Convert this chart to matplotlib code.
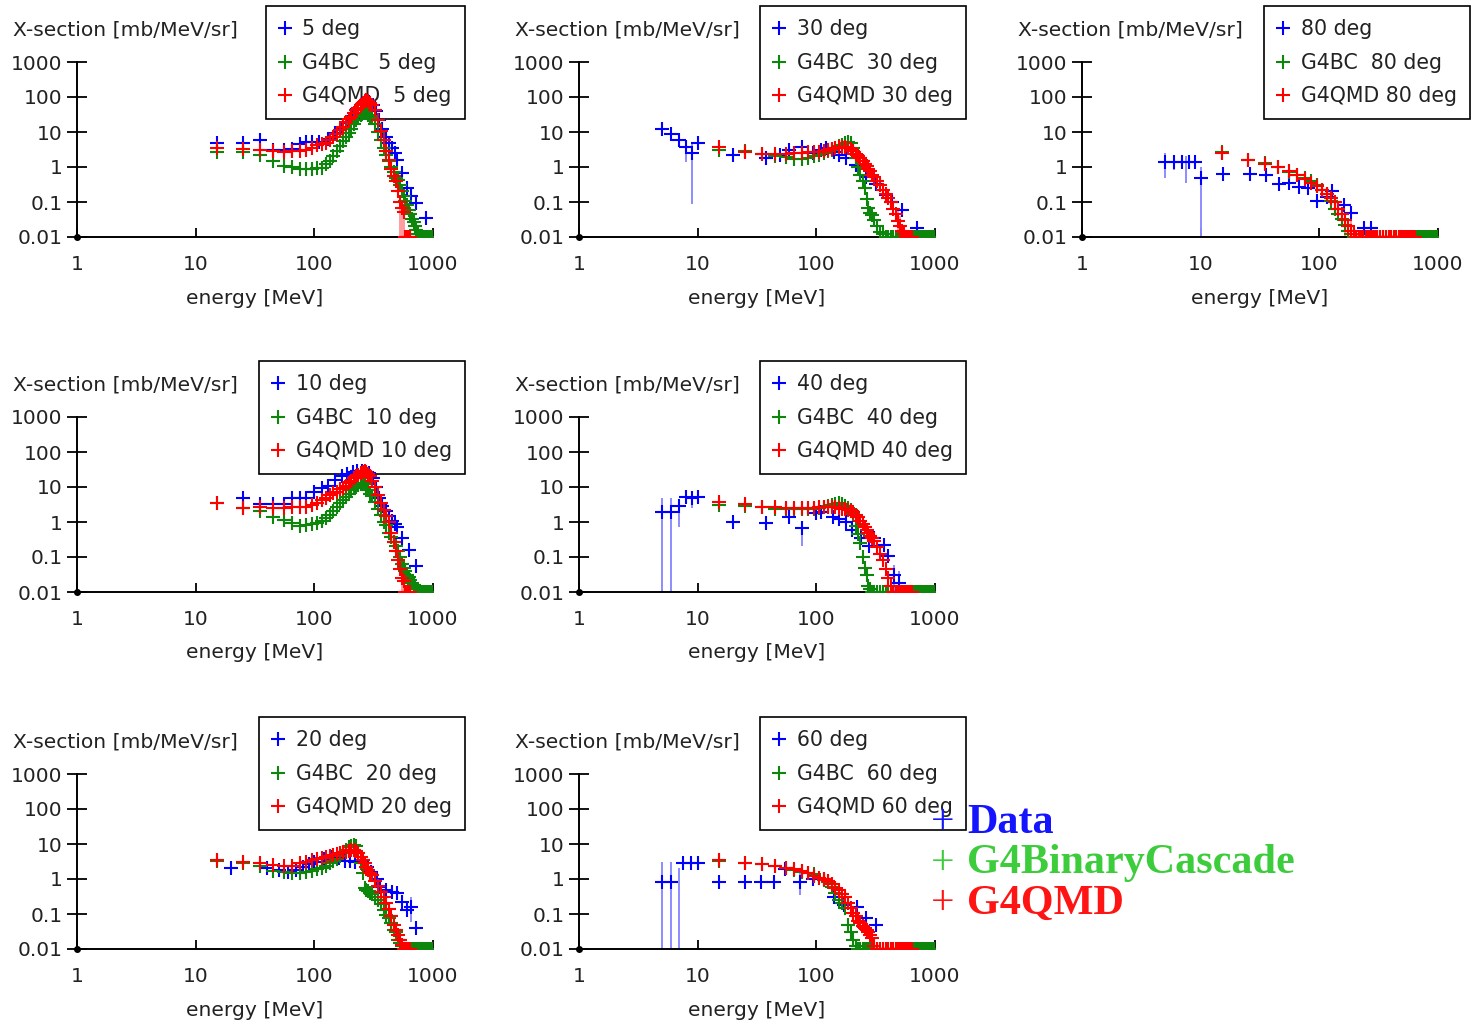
import numpy as np
import matplotlib
matplotlib.use('Agg')
import matplotlib.pyplot as plt
from matplotlib.lines import Line2D
from matplotlib.ticker import NullLocator

# model energy bins [MeV]; G4QMD lists stop at the 645 MeV bin
E_MODEL = [15, 25, 35, 45, 55, 65, 75, 85, 95, 105,
           115, 125, 135, 145, 155, 165, 175, 185, 195, 205,
           215, 225, 235, 245, 255, 265, 275, 285, 295,
           305, 325, 345, 365, 385, 405, 425, 445, 465, 485,
           505, 525, 545, 565, 585, 605, 625, 645,
           665, 685, 705, 725, 745, 765, 785, 805, 825, 845,
           865, 885, 905, 925, 945, 965, 985]

# ---- 5 deg
data5_e = [15, 25, 35, 45, 55, 65, 75, 85, 95, 110, 130, 150, 170, 190, 210, 230, 250,
           270, 290, 310, 330, 350, 375, 400, 425, 450, 475, 500, 550, 600, 650, 725, 875]
data5_v = [4.8, 4.8, 5.9, 3.0, 3.0, 3.3, 4.5, 5.3, 5.3, 5.3, 6.5, 9.2, 13, 18, 28, 45, 65,
           82, 72, 58, 40, 22, 12, 7, 4.75, 3.5, 2.5, 1.6, 0.66, 0.25, 0.15, 0.092, 0.034]
bc5 = [2.7, 2.6, 2.2, 1.5, 1.1, 1.0, 0.9, 0.86, 0.9, 0.92,
       0.95, 1.2, 1.5, 2.0, 2.8, 3.9, 5.5, 7.2, 9.5, 12,
       17, 22, 27, 31, 35, 36, 34, 31, 28,
       25, 17, 10, 6, 3.4, 2.2, 1.5, 1.0, 0.7, 0.5,
       0.42, 0.3, 0.2, 0.15, 0.11, 0.08, 0.058, 0.045,
       0.033, 0.027, 0.02, 0.016, 0.012, 0, 0, 0, 0, 0,
       0, 0, 0, 0, 0, 0, 0]
qmd5 = [3.4, 3.3, 3.0, 2.8, 2.7, 2.8, 2.9, 3.0, 3.6, 4.2,
        4.5, 4.8, 6.0, 7.3, 9.0, 11.4, 14, 19.7, 23, 27,
        34, 42, 50, 58, 66, 76, 82, 75, 68,
        60, 42, 22, 11, 6, 2.8, 1.6, 0.9, 0.55, 0.4,
        0.2, 0.1, 0.066, 0.053, 0, 0, 0, 0]
bars5 = [(525, 0.01, 0.15, 'r'), (545, 0.01, 0.1, 'r'), (565, 0.01, 0.08, 'r')]

# ---- 10 deg
data10_e = [25, 35, 45, 55, 65, 75, 85, 100, 115, 130, 150, 170, 190, 210, 230, 250, 270,
            290, 310, 330, 350, 375, 400, 425, 450, 475, 500, 550, 625, 720]
data10_v = [5.0, 3.3, 3.2, 3.3, 4.7, 5.0, 4.7, 7.3, 9.2, 11, 15.8, 20, 24, 27, 28, 28, 27,
            25, 18, 10, 5, 2.8, 2.0, 1.5, 1.1, 0.9, 0.7, 0.35, 0.16, 0.055]
bc10 = [3.4, 2.5, 2.0, 1.4, 1.15, 0.95, 0.75, 0.8, 0.9, 0.95,
        1.1, 1.3, 1.6, 2.1, 2.7, 3.5, 4.3, 5.3, 6.5, 8.0,
        9.2, 10, 11.4, 12.5, 12.9, 12, 10, 8, 6.5,
        5.5, 3.8, 2.4, 1.6, 1.0, 0.8, 0.5, 0.38, 0.27, 0.2,
        0.15, 0.1, 0.065, 0.047, 0.04, 0.031, 0.026, 0.022,
        0.018, 0.016, 0.014, 0.012, 0, 0, 0, 0, 0, 0,
        0, 0, 0, 0, 0, 0, 0]
qmd10 = [3.4, 2.5, 2.7, 2.5, 2.5, 2.6, 2.6, 2.7, 3.0, 3.4,
         4.2, 5.0, 5.8, 6.6, 7.3, 8.5, 9.5, 11, 13, 15,
         17.7, 20, 22, 25, 27, 28, 27, 23, 20,
         15, 10, 6, 3.5, 2.2, 1.5, 1.0, 0.5, 0.27, 0.15,
         0.08, 0.045, 0.025, 0.02, 0, 0, 0, 0]
bars10 = [(545, 0.01, 0.05, 'r'), (565, 0.01, 0.04, 'r')]

# ---- 20 deg
data20_e = [20, 40, 50, 60, 70, 80, 90, 100, 120, 140, 160, 180, 200, 220, 250, 280, 300,
            340, 360, 400, 450, 500, 550, 600, 650, 720]
data20_v = [2.0, 2.0, 1.8, 1.6, 1.8, 2.2, 2.6, 3.1, 3.8, 4.3, 4.0, 3.3, 3.2, 3.0, 3.0, 2.2, 1.6,
            1.0, 0.6, 0.5, 0.43, 0.4, 0.22, 0.13, 0.16, 0.04]
bc20 = [3.3, 2.9, 2.3, 1.7, 1.55, 1.45, 1.45, 1.55, 1.7, 1.9,
        2.1, 2.4, 2.9, 3.2, 3.7, 4.6, 5.6, 6.8, 8.3, 9.0,
        9.5, 8.5, 5.5, 2.8, 1.5, 0.55, 0.48, 0.44, 0.4,
        0.37, 0.3, 0.25, 0.19, 0.13, 0.096, 0.075, 0.055, 0.035, 0.03,
        0.018, 0.015, 0.012, 0, 0, 0, 0, 0,
        0, 0, 0, 0, 0, 0, 0, 0, 0, 0,
        0, 0, 0, 0, 0, 0, 0]
qmd20 = [3.5, 3.1, 2.8, 2.5, 2.3, 2.4, 2.8, 3.1, 3.4, 3.7,
         4.0, 4.3, 4.6, 4.9, 5.2, 5.5, 5.8, 6.0, 6.3, 6.6,
         6.8, 6.5, 5.5, 4.3, 3.5, 2.8, 2.2, 1.8, 1.5,
         1.3, 0.9, 0.62, 0.43, 0.31, 0.2, 0.14, 0.085, 0.05, 0.035,
         0.025, 0.018, 0.013, 0, 0, 0, 0, 0]
bars20 = [(650, 0.06, 0.3, 'b')]

# ---- 30 deg
data30_e = [5, 6, 7, 8, 9, 10, 20, 38, 49, 59, 76, 93, 109, 121, 140, 156, 178, 215,
            263, 318, 385, 437, 530, 710]
data30_v = [12.2, 8.6, 5.9, 3.8, 2.5, 4.75, 2.2, 1.8, 2.2, 3.05, 3.8, 2.5, 3.05, 3.4, 2.6,
            2.2, 1.8, 1.14, 0.53, 0.33, 0.16, 0.1, 0.059, 0.018]
bc30 = [3.0, 2.8, 2.4, 2.1, 1.9, 1.7, 1.7, 1.8, 2.0, 2.2,
        2.5, 2.8, 3.1, 3.5, 3.9, 4.3, 4.7, 5.1, 4.8, 3.5,
        1.8, 1.0, 0.6, 0.4, 0.25, 0.12, 0.066, 0.05, 0.042,
        0.03, 0.02, 0.014, 0.012, 0, 0, 0, 0, 0, 0,
        0, 0, 0, 0, 0, 0, 0, 0,
        0, 0, 0, 0, 0, 0, 0, 0, 0, 0,
        0, 0, 0, 0, 0, 0, 0]
qmd30 = [3.8, 2.7, 2.4, 2.4, 2.4, 2.5, 2.5, 2.6, 2.6, 2.7,
         2.8, 3.0, 3.3, 3.6, 3.8, 3.8, 3.7, 3.5, 3.2, 2.8,
         2.4, 2.1, 1.8, 1.5, 1.25, 1.1, 0.9, 0.75, 0.6,
         0.52, 0.4, 0.3, 0.22, 0.17, 0.13, 0.1, 0.065, 0.045, 0.028,
         0.02, 0.015, 0.012, 0, 0, 0, 0, 0]
bars30 = [(8, 1.4, 6.0, 'b'), (9, 0.085, 5.0, 'b'), (485, 0.01, 0.06, 'r'), (505, 0.01, 0.04, 'r')]

# ---- 40 deg
data40_e = [5, 6, 7, 8, 9, 10, 20, 38, 59, 76, 99, 110, 137, 156, 178, 201, 238, 278,
            307, 372, 398, 450, 500]
data40_v = [1.9, 1.9, 2.9, 5.3, 4.75, 5.3, 1.0, 0.92, 1.42, 0.66, 1.78, 1.9, 1.42, 1.2,
            1.0, 0.59, 0.34, 0.2, 0.34, 0.22, 0.11, 0.03, 0.018]
bc40 = [3.0, 2.9, 2.6, 2.3, 2.3, 2.3, 2.3, 2.4, 2.4, 2.5,
        2.6, 2.8, 3.0, 3.2, 3.4, 3.2, 2.8, 2.5, 2.2, 1.7,
        0.75, 0.45, 0.25, 0.1, 0.05, 0.03, 0.015, 0.012, 0,
        0, 0, 0, 0, 0, 0, 0, 0, 0, 0,
        0, 0, 0, 0, 0, 0, 0, 0,
        0, 0, 0, 0, 0, 0, 0, 0, 0, 0,
        0, 0, 0, 0, 0, 0, 0]
qmd40 = [3.8, 3.2, 2.7, 2.6, 2.5, 2.5, 2.5, 2.5, 2.5, 2.6,
         2.6, 2.6, 2.6, 2.6, 2.5, 2.4, 2.3, 2.2, 2.0, 1.9,
         1.6, 1.4, 1.1, 0.9, 0.7, 0.58, 0.48, 0.4, 0.34,
         0.28, 0.19, 0.12, 0.08, 0.045, 0.025, 0.015, 0, 0, 0,
         0, 0, 0, 0, 0, 0, 0, 0]
bars40 = [(5, 0.01, 4.75, 'b'), (6, 0.01, 5.0, 'b'), (7, 0.73, 3.4, 'b'), (9, 2.5, 7.0, 'b'),
          (76, 0.2, 0.92, 'b'), (450, 0.01, 0.06, 'b'), (500, 0.01, 0.04, 'b')]

# ---- 60 deg
data60_e = [5, 6, 7.5, 8.8, 10, 15, 25, 34, 44, 54, 73, 94, 115, 141, 172, 220, 260, 316]
data60_v = [0.8, 0.8, 2.9, 2.9, 2.9, 0.8, 0.8, 0.8, 0.8, 1.9, 0.8, 1.0, 1.0, 0.3, 0.18,
            0.16, 0.076, 0.05]
bc60 = [3.3, 2.9, 2.6, 2.3, 2.1, 1.8, 1.55, 1.45, 1.35, 1.1,
        0.95, 0.8, 0.6, 0.4, 0.25, 0.2, 0.15, 0.05, 0.03, 0.018,
        0.012, 0, 0, 0, 0, 0, 0, 0, 0,
        0, 0, 0, 0, 0, 0, 0, 0, 0, 0,
        0, 0, 0, 0, 0, 0, 0, 0,
        0, 0, 0, 0, 0, 0, 0, 0, 0, 0,
        0, 0, 0, 0, 0, 0, 0]
qmd60 = [3.6, 2.9, 2.6, 2.3, 2.1, 1.9, 1.7, 1.45, 1.25, 1.1,
         1.0, 0.85, 0.7, 0.55, 0.47, 0.38, 0.3, 0.2, 0.15, 0.11,
         0.085, 0.065, 0.055, 0.045, 0.04, 0.035, 0.03, 0.025, 0.02,
         0.012, 0, 0, 0, 0, 0, 0, 0, 0, 0,
         0, 0, 0, 0, 0, 0, 0, 0]
bars60 = [(5, 0.01, 3.0, 'b'), (6, 0.01, 3.0, 'b'), (7, 0.01, 2.0, 'b'), (73, 0.35, 1.5, 'b')]

# ---- 80 deg
data80_e = [5, 6, 7, 8, 9, 10, 15.4, 25.8, 35.5, 46, 55, 67, 80, 96, 116, 128, 160, 185, 240, 275]
data80_v = [1.42, 1.42, 1.42, 1.35, 1.42, 0.475, 0.65, 0.65, 0.59, 0.33, 0.36, 0.27, 0.25,
            0.11, 0.14, 0.2, 0.082, 0.047, 0.018, 0.018]
bc80 = [2.7, 1.6, 1.3, 1.0, 0.7, 0.6, 0.5, 0.4, 0.3, 0.22,
        0.17, 0.11, 0.065, 0.045, 0.033, 0.022, 0.015, 0.012, 0, 0,
        0, 0, 0, 0, 0, 0, 0, 0, 0,
        0, 0, 0, 0, 0, 0, 0, 0, 0, 0,
        0, 0, 0, 0, 0, 0, 0, 0,
        0, 0, 0, 0, 0, 0, 0, 0, 0, 0,
        0, 0, 0, 0, 0, 0, 0]
qmd80 = [2.5, 1.6, 1.2, 1.0, 0.75, 0.6, 0.45, 0.35, 0.28, 0.22,
         0.17, 0.13, 0.1, 0.065, 0.045, 0.03, 0.02, 0.015, 0.012, 0,
         0, 0, 0, 0, 0, 0, 0, 0, 0,
         0, 0, 0, 0, 0, 0, 0, 0, 0, 0,
         0, 0, 0, 0, 0, 0, 0, 0]
bars80 = [(5, 0.5, 2.5, 'b'), (6, 0.8, 2.2, 'b'), (7.5, 0.35, 2.0, 'b'), (10, 0.01, 1.0, 'b'),
          (165, 0.01, 0.05, 'r'), (185, 0.01, 0.04, 'r')]

X_TICKS = [1, 10, 100, 1000]
X_TICK_LABELS = ['1', '10', '100', '1000']
Y_TICKS = [0.01, 0.1, 1, 10, 100, 1000]
Y_TICK_LABELS = ['0.01', '0.1', '1', '10', '100', '1000']

KEY_TEXT = ['Data', 'G4BinaryCascade', 'G4QMD']
KEY_COLORS = ['#1414ff', '#3ccc3c', '#ff1414']

BLUE, GREEN, RED = '#0000ff', '#0c870c', '#ff0000'
BAR_COLORS = {'b': '#8c8cff', 'r': '#ff9c9c'}
MS, MEW = 9.5, 1.5
TXT = '#222222'

W, H = 1471.0, 1024.0
COL_X = [77, 579, 1082]
ROW_Y = [237, 592, 949]
AX_W, AX_H = 356, 175
LEG_RIGHT = [465, 966, 1470]
LEG_TOP = [6, 361, 717]

panels = [
    (0, 0, 5, data5_e, data5_v, bc5, qmd5, bars5),
    (1, 0, 30, data30_e, data30_v, bc30, qmd30, bars30),
    (2, 0, 80, data80_e, data80_v, bc80, qmd80, bars80),
    (0, 1, 10, data10_e, data10_v, bc10, qmd10, bars10),
    (1, 1, 40, data40_e, data40_v, bc40, qmd40, bars40),
    (0, 2, 20, data20_e, data20_v, bc20, qmd20, bars20),
    (1, 2, 60, data60_e, data60_v, bc60, qmd60, bars60),
]


def floor(v):
    # empty bins sit on the bottom axis
    return np.clip(np.asarray(v, dtype=float), 0.01, None)


fig = plt.figure(figsize=(14.71, 10.24), dpi=100)

for col, row, ang, de, dv, bc, qmd, bars in panels:
    ax = fig.add_axes([COL_X[col] / W, 1 - ROW_Y[row] / H, AX_W / W, AX_H / H])
    ax.set_xscale('log')
    ax.set_yscale('log')

    for e, lo, hi, k in bars:
        ax.vlines(e, lo, hi, colors=BAR_COLORS[k], lw=1.4, zorder=2)
    ax.plot(de, floor(dv), ls='', marker='+', ms=MS, mew=MEW, color=BLUE, zorder=3)
    ax.plot(E_MODEL, floor(bc), ls='', marker='+', ms=MS, mew=MEW, color=GREEN, zorder=4)
    ax.plot(E_MODEL[:len(qmd)], floor(qmd), ls='', marker='+', ms=MS, mew=MEW, color=RED, zorder=5)
    ax.plot([1], [0.01], 'o', ms=4, color='black', clip_on=False, zorder=6)

    ax.set_xlim(1, 1000)
    ax.set_ylim(0.01, 1000)
    ax.spines['top'].set_visible(False)
    ax.spines['right'].set_visible(False)
    for s in ('left', 'bottom'):
        ax.spines[s].set_linewidth(1.4)
    ax.set_xticks(X_TICKS)
    ax.set_xticklabels(X_TICK_LABELS)
    ax.set_yticks(Y_TICKS)
    ax.set_yticklabels(Y_TICK_LABELS)
    ax.xaxis.set_minor_locator(NullLocator())
    ax.yaxis.set_minor_locator(NullLocator())
    ax.tick_params(axis='y', direction='inout', length=13.7, width=1.3, pad=3.5,
                   labelsize=14.5, labelcolor=TXT)
    ax.tick_params(axis='x', direction='in', length=6.8, width=1.3, pad=13,
                   labelsize=14.5, labelcolor=TXT)

    ax.text(-64 / AX_W, 1 + 32 / AX_H, 'X-section [mb/MeV/sr]', transform=ax.transAxes,
            ha='left', va='center', fontsize=14.6, color=TXT)
    ax.text(0.5, -61 / AX_H, 'energy [MeV]', transform=ax.transAxes,
            ha='center', va='center', fontsize=14.6, color=TXT)

    handles = [Line2D([], [], ls='', marker='+', ms=MS, mew=MEW, color=c) for c in (BLUE, GREEN, RED)]
    labels = ['%d deg' % ang, 'G4BC %3d deg' % ang, 'G4QMD%3d deg' % ang]
    leg = ax.legend(handles, labels, loc='upper right',
                    bbox_to_anchor=(LEG_RIGHT[col] / W, 1 - LEG_TOP[row] / H),
                    bbox_transform=fig.transFigure, borderaxespad=0, fontsize=14.8,
                    fancybox=False, edgecolor='black', framealpha=1,
                    handlelength=0.6, handletextpad=0.55, labelspacing=0.66, borderpad=0.64)
    leg.get_frame().set_linewidth(1.2)
    for t in leg.get_texts():
        t.set_color(TXT)
    leg.set_zorder(1)

# big colour key at the lower right
for i, (txt, c) in enumerate(zip(KEY_TEXT, KEY_COLORS)):
    y = 1 - (833 + 40.5 * i) / H
    fig.text(931 / W, y, '+', color=c, fontsize=30, family='Liberation Serif', va='baseline')
    fig.text(967 / W, y, txt, color=c, fontsize=30.3, family='Liberation Serif',
             fontweight='bold', va='baseline')

fig.savefig('out.png', dpi=100)
